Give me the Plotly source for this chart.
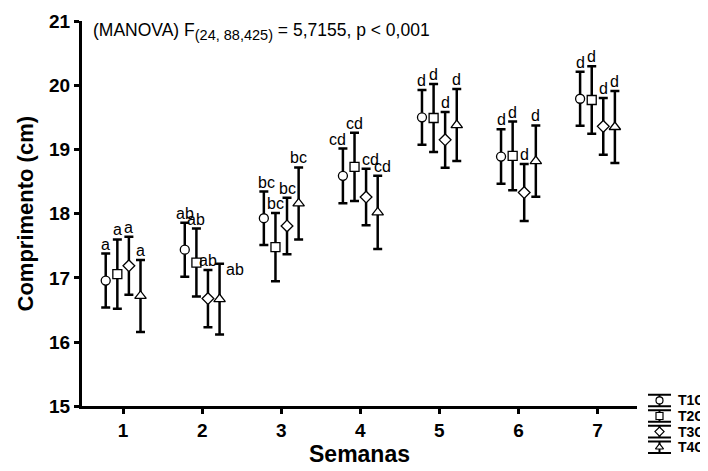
import plotly.graph_objects as go

# ---------------- data ----------------
weeks = [1, 2, 3, 4, 5, 6, 7]
tick_labels = ["1", "2", "3", "4", "5", "6", "7"]
groups = ["T1C", "T2C", "T3C", "T4C"]

t1c_mean = [16.96, 17.44, 17.93, 18.59, 19.50, 18.89, 19.79]
t1c_err = [0.42, 0.42, 0.415, 0.425, 0.425, 0.425, 0.42]
t2c_mean = [17.06, 17.24, 17.48, 18.73, 19.49, 18.90, 19.77]
t2c_err = [0.54, 0.53, 0.53, 0.53, 0.53, 0.535, 0.525]
t3c_mean = [17.19, 16.68, 17.81, 18.26, 19.15, 18.33, 19.36]
t3c_err = [0.45, 0.445, 0.44, 0.44, 0.435, 0.445, 0.44]
t4c_mean = [16.72, 16.67, 18.16, 18.02, 19.38, 18.82, 19.35]
t4c_err = [0.56, 0.55, 0.56, 0.57, 0.56, 0.555, 0.56]

t1c_letters = ["a", "ab", "bc", "cd", "d", "d", "d"]
t2c_letters = ["a", "ab", "bc", "cd", "d", "d", "d"]
t3c_letters = ["a", "ab", "bc", "cd", "d", "d", "d"]
t4c_letters = ["a", "ab", "bc", "cd", "d", "d", "d"]

stat_main = "(MANOVA) F"
stat_sub = "(24, 88,425)"
stat_rest = " = 5,7155, p < 0,001"

# ---------------- style ----------------
FONT = "Arial, Liberation Sans, Helvetica, sans-serif"
means = [t1c_mean, t2c_mean, t3c_mean, t4c_mean]
errs = [t1c_err, t2c_err, t3c_err, t4c_err]
letters = [t1c_letters, t2c_letters, t3c_letters, t4c_letters]
symbols = ["circle", "square", "diamond", "triangle-up"]
offsets = [-0.22, -0.073, 0.073, 0.22]
sizes = [9, 9, 9, 10]
label_shift = {(0, 3): -5, (2, 3): 4, (3, 3): 5, (0, 2): 3}

fig = go.Figure()

for gi, g in enumerate(groups):
    xs = [w + offsets[gi] for w in weeks]
    fig.add_trace(go.Scatter(
        x=xs, y=means[gi], mode="markers", name=g, showlegend=False,
        marker=dict(symbol=symbols[gi], size=sizes[gi], color="white",
                    line=dict(color="black", width=1.3)),
        error_y=dict(type="data", array=errs[gi], visible=True,
                     color="black", thickness=2.5, width=4.5),
        cliponaxis=False,
    ))
    for wi, w in enumerate(weeks):
        top = means[gi][wi] + errs[gi][wi]
        if gi == 3 and wi == 1:
            fig.add_annotation(x=xs[wi], y=top, text=letters[gi][wi],
                               showarrow=False, xanchor="left", yanchor="middle",
                               xshift=4, yshift=-6,
                               font=dict(family=FONT, size=16, color="black"))
        else:
            fig.add_annotation(x=xs[wi], y=top, text=letters[gi][wi],
                               showarrow=False, xanchor="center", yanchor="bottom",
                               xshift=label_shift.get((gi, wi), 0), yshift=-1,
                               font=dict(family=FONT, size=16, color="black"))

# ---- legend drawn on its own small axes (error-bar icons like the original) ----
for gi, g in enumerate(groups):
    fig.add_trace(go.Scatter(
        x=[12.5], y=[4 - gi], mode="markers", showlegend=False,
        xaxis="x2", yaxis="y2",
        marker=dict(symbol=symbols[gi], size=7, color="white",
                    line=dict(color="black", width=1.2)),
        error_y=dict(type="data", array=[0.37], visible=True,
                     color="black", thickness=2, width=11.5),
        cliponaxis=False,
    ))
    fig.add_annotation(x=29, y=4 - gi, xref="x2", yref="y2", text="<b>" + g + "</b>",
                       showarrow=False, xanchor="left", yanchor="middle",
                       font=dict(family=FONT, size=14, color="black"))

fig.add_annotation(x=0.014, y=0.975, xref="paper", yref="paper",
                   text=stat_main + "<sub><span style='font-size:14.5px'>" + stat_sub
                   + "</span></sub>" + stat_rest,
                   showarrow=False, xanchor="left", yanchor="middle",
                   font=dict(family=FONT, size=17.5, color="black"))

axis_common = dict(showline=True, linewidth=3, linecolor="black", ticks="outside",
                   ticklen=5, tickwidth=2.5, tickcolor="black", showgrid=False,
                   zeroline=False,
                   tickfont=dict(family=FONT, size=19, color="black", weight="bold"))

# page body has an 8px default margin, so the figure is 8px smaller in both directions
fig.update_layout(
    width=700, height=463,
    margin=dict(l=74, r=3, t=13, b=10),
    paper_bgcolor="white", plot_bgcolor="white",
    xaxis=dict(domain=[0, 0.8909], range=[0.48, 7.5], tickvals=weeks, ticktext=tick_labels,
               title=dict(text="Semanas", standoff=5,
                          font=dict(family=FONT, size=23, color="black", weight="bold")),
               **axis_common),
    yaxis=dict(domain=[0.1159, 1], range=[15, 21], tickvals=[15, 16, 17, 18, 19, 20, 21],
               title=dict(text="Comprimento (cm)", standoff=10,
                          font=dict(family=FONT, size=22, color="black", weight="bold")),
               **axis_common),
    xaxis2=dict(domain=[0.9069, 1.0], range=[0, 58], visible=False, anchor="y2"),
    yaxis2=dict(domain=[0.0045, 0.1477], range=[0.5, 4.5], visible=False, anchor="x2"),
    showlegend=False,
)

fig.write_html("out.html")
